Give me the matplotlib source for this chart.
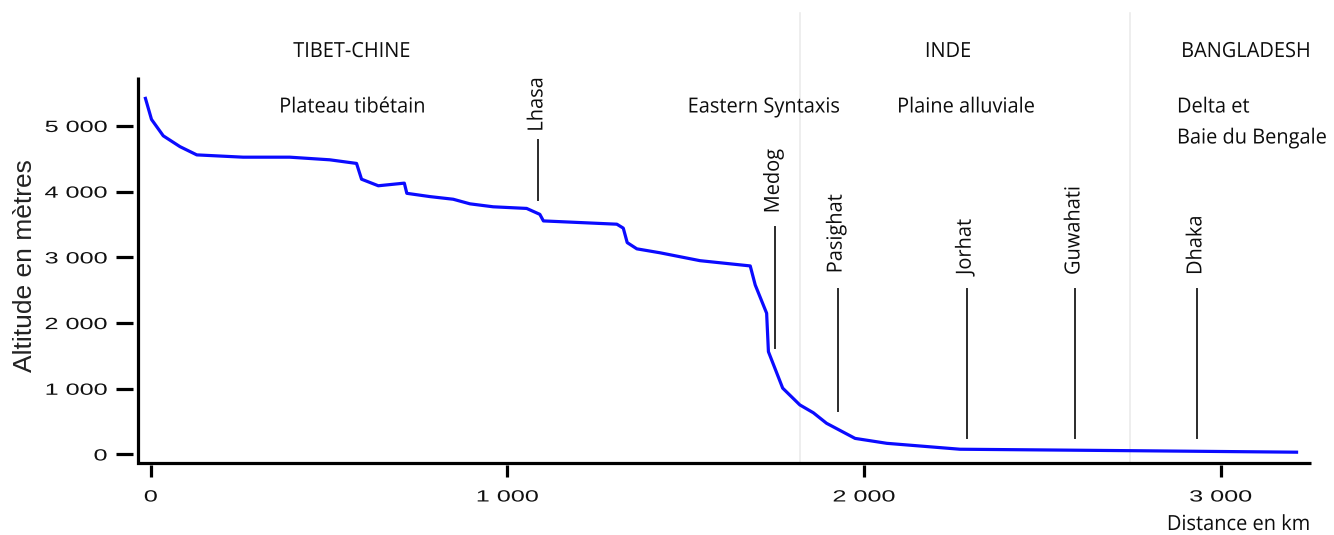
import matplotlib
matplotlib.use("Agg")
import matplotlib.pyplot as plt
from matplotlib.patheffects import AbstractPathEffect
from matplotlib.transforms import Affine2D, offset_copy

# ---------------- data ----------------
dist_km = [-15, 2, 35, 82, 129, 259, 390, 502, 577, 591, 638, 711, 718, 783,
           848, 895, 960, 1054, 1091, 1101, 1307, 1325, 1336, 1363, 1428, 1540,
           1681, 1695, 1727, 1732, 1772, 1820, 1858, 1895, 1975, 2064, 2269,
           2746, 3213]
alt_m = [5420, 5100, 4850, 4685, 4560, 4525, 4525, 4485, 4430, 4190, 4090,
         4130, 3975, 3925, 3885, 3815, 3770, 3745, 3655, 3555, 3505, 3445,
         3225, 3130, 3070, 2950, 2870, 2580, 2150, 1565, 1010, 755, 635, 475,
         245, 170, 80, 58, 35]

town_names = ["Lhasa", "Medog", "Pasighat", "Jorhat", "Guwahati", "Dhaka"]
town_km = [1087, 1750, 1926, 2288, 2593, 2935]
town_line_top = [4787, 3467, 2514, 2514, 2514, 2514]
town_line_bottom = [3874, 1616, 667, 247, 247, 247]
town_label_start = [4913, 3671, 2758, 2732, 2732, 2732]

border_km = [1820, 2746]

country_names = ["TIBET-CHINE", "INDE", "BANGLADESH"]
zone_names = ["Plateau tibétain", "Eastern Syntaxis", "Plaine alluviale"]
delta_lines = ["Delta et", "Baie du Bengale"]

x_ticks = [0, 1000, 2000, 3000]
x_tick_labels = ["0", "1 000", "2 000", "3 000"]
y_ticks = [0, 1000, 2000, 3000, 4000, 5000]
y_tick_labels = ["0", "1 000", "2 000", "3 000", "4 000", "5 000"]

x_label = "Distance en km"
y_label = "Altitude en mètres"


# ---------------- helpers ----------------
class HStretch(AbstractPathEffect):
    """Stretch text glyphs along the writing direction."""
    def __init__(self, sx, anchor="left"):
        super().__init__((0, 0))
        self._sx = sx
        self._anchor = anchor

    def draw_path(self, renderer, gc, tpath, affine, rgbFace=None):
        ext = tpath.get_extents()
        if self._anchor == "center":
            a = 0.5 * (ext.x0 + ext.x1)
        elif self._anchor == "right":
            a = ext.x1
        else:
            a = 0.0
        t = Affine2D().translate(-a, 0).scale(self._sx, 1.0).translate(a, 0) + affine
        renderer.draw_path(gc, tpath, t, rgbFace)


W, H = 1334, 535
fig = plt.figure(figsize=(W / 100, H / 100), dpi=100)
ax_l, ax_r, ax_t, ax_b = 137.7, 1310.7, 76.7, 462.7
ax = fig.add_axes([ax_l / W, 1 - ax_b / H, (ax_r - ax_l) / W, (ax_b - ax_t) / H])
ax.set_xlim(-36.7, 3252.7)
ax.set_ylim(-125, 5750)


def fx(px):
    return px / W


def fy(py):
    return 1 - py / H


LABEL_FONT = "Open Sans"
LABEL_SIZE = 15
LABEL_SX = 0.96
TXT = "#0d0d0d"

# borders
for b in border_km:
    ax.axvline(b, ymin=0, ymax=1.165, color="#ebebeb", lw=1.2, clip_on=False, zorder=0)

# curve
ax.plot(dist_km, alt_m, color="#0b0bff", lw=2.3, solid_joinstyle="round", zorder=3)

# town markers
for name, x, yt, yb, ys in zip(town_names, town_km, town_line_top,
                               town_line_bottom, town_label_start):
    ax.plot([x, x], [yb, yt], color="#2b2b2b", lw=1.4, zorder=2)
    tr = offset_copy(ax.transData, fig=fig, x=4, y=0, units="dots")
    ax.text(x, ys, name, transform=tr, rotation=90, rotation_mode="anchor",
            ha="left", va="baseline", family=LABEL_FONT, fontsize=LABEL_SIZE,
            color=TXT, path_effects=[HStretch(LABEL_SX, "left")])

# headers
country_px = [352, 948, 1246]
for name, cx in zip(country_names, country_px):
    fig.text(fx(cx), fy(57), name, ha="center", va="baseline", family=LABEL_FONT,
             fontsize=LABEL_SIZE, color=TXT, path_effects=[HStretch(LABEL_SX, "center")])
zone_px = [352.5, 764, 966]
for name, cx in zip(zone_names, zone_px):
    fig.text(fx(cx), fy(112.5), name, ha="center", va="baseline", family=LABEL_FONT,
             fontsize=LABEL_SIZE, color=TXT, path_effects=[HStretch(LABEL_SX, "center")])
for line, by in zip(delta_lines, [112.5, 143.5]):
    fig.text(fx(1177), fy(by), line, ha="left", va="baseline", family=LABEL_FONT,
             fontsize=LABEL_SIZE, color=TXT, path_effects=[HStretch(LABEL_SX, "left")])

fig.text(fx(1310), fy(530), x_label, ha="right", va="baseline", family=LABEL_FONT,
         fontsize=LABEL_SIZE, color=TXT, path_effects=[HStretch(LABEL_SX, "right")])
fig.text(fx(25), fy(266), y_label, rotation=90, ha="center", va="center",
         family="Liberation Sans", fontsize=19, color="#222222")

# axes frame (drawn as L) with detached ticks
for s in ax.spines.values():
    s.set_visible(False)
ax.spines["left"].set_position(("outward", 3.2))
ax.spines["bottom"].set_position(("outward", 2.0))
ax.plot([0, 0, 1], [1, 0, 0], transform=ax.transAxes, color="black", lw=2.3,
        clip_on=False, solid_joinstyle="miter", solid_capstyle="butt", zorder=4)

ax.set_xticks(x_ticks, labels=x_tick_labels)
ax.set_yticks(y_ticks, labels=y_tick_labels)
ax.tick_params(axis="y", length=12, width=2.3, color="black", pad=6.8,
               labelsize=11.7, labelcolor="#111111")
ax.tick_params(axis="x", length=8.9, width=2.3, color="black", pad=8.4,
               labelsize=11.7, labelcolor="#111111")
for t in ax.yaxis.get_major_ticks():
    t.label1.set_family("Liberation Sans")
    t.label1.set_path_effects([HStretch(1.55, "right")])
for t in ax.xaxis.get_major_ticks():
    t.label1.set_family("Liberation Sans")
    t.label1.set_path_effects([HStretch(1.55, "center")])

fig.savefig("out.png", dpi=100)
